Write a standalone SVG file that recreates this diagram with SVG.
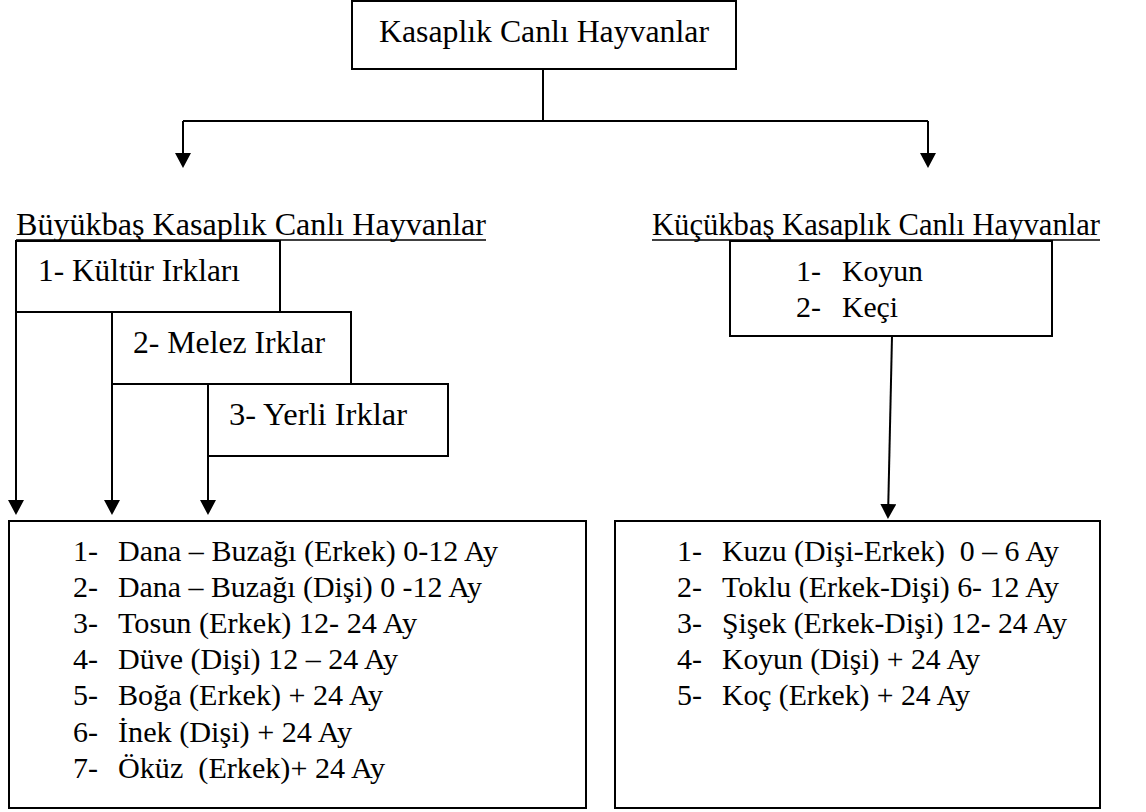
<svg xmlns="http://www.w3.org/2000/svg" width="1146" height="812" viewBox="0 0 1146 812">
  <style>
    text { fill: #000; }
    .t32 { font-size: 32px; }
    .t30 { font-size: 30px; }
    .box { fill: #fff; stroke: #000; stroke-width: 2; }
    .link { fill: none; stroke: #000; stroke-width: 2; }
    .ul { stroke: #000; stroke-width: 1.6; }
  </style>
  <defs>
    <marker id="arrow" viewBox="0 0 15 16" refX="9" refY="8" markerWidth="15" markerHeight="16" markerUnits="userSpaceOnUse" orient="auto">
      <path d="M0,0 L15,8 L0,16 Z" fill="#000"/>
    </marker>
  </defs>

  <rect width="1146" height="812" fill="#fff"/>

  <!-- connectors -->
  <g id="connectors">
    <path class="link" d="M543,69 V121 M183,121 H928"/>
    <path class="link" d="M183,121 V162" marker-end="url(#arrow)"/>
    <path class="link" d="M928,121 V162" marker-end="url(#arrow)"/>
    <path class="link" d="M16,312 V509" marker-end="url(#arrow)"/>
    <path class="link" d="M112,384 V509" marker-end="url(#arrow)"/>
    <path class="link" d="M208,456 V509" marker-end="url(#arrow)"/>
    <path class="link" d="M892,336 L888.1,513" marker-end="url(#arrow)"/>
  </g>

  <g font-family="'Liberation Serif', Tinos, 'Times New Roman', 'DejaVu Serif', serif">
  <!-- root -->
  <g id="root">
    <rect class="box" x="352" y="1" width="384" height="68"/>
    <text class="t32" x="379" y="42" textLength="330" lengthAdjust="spacingAndGlyphs">Kasaplık Canlı Hayvanlar</text>
  </g>

  <!-- branch headings -->
  <g id="heading-large">
    <text class="t32" x="16" y="235" textLength="470" lengthAdjust="spacingAndGlyphs">Büyükbaş Kasaplık Canlı Hayvanlar</text>
    <line class="ul" x1="16" y1="240" x2="486" y2="240"/>
  </g>
  <g id="heading-small">
    <text class="t32" x="652" y="235" textLength="448" lengthAdjust="spacingAndGlyphs">Küçükbaş Kasaplık Canlı Hayvanlar</text>
    <line class="ul" x1="652" y1="240" x2="1100" y2="240"/>
  </g>

  <!-- breed groups -->
  <g id="breed-culture">
    <rect class="box" x="16" y="241" width="264" height="71"/>
    <text class="t32" x="38" y="281" textLength="202" lengthAdjust="spacingAndGlyphs">1- Kültür Irkları</text>
  </g>
  <g id="breed-cross">
    <rect class="box" x="112" y="312" width="239" height="72"/>
    <text class="t32" x="133" y="353" textLength="192" lengthAdjust="spacingAndGlyphs">2- Melez Irklar</text>
  </g>
  <g id="breed-local">
    <rect class="box" x="208" y="384" width="240" height="72"/>
    <text class="t32" x="229" y="425" textLength="178" lengthAdjust="spacingAndGlyphs">3- Yerli Irklar</text>
  </g>

  <!-- small livestock species -->
  <g id="species-small">
    <rect class="box" x="730" y="241" width="322" height="95"/>
    <text class="t30" x="796" y="281">1-</text>
    <text class="t30" x="842" y="281" textLength="81" lengthAdjust="spacingAndGlyphs">Koyun</text>
    <text class="t30" x="796" y="317">2-</text>
    <text class="t30" x="842" y="317" textLength="56" lengthAdjust="spacingAndGlyphs">Keçi</text>
  </g>

  <!-- cattle categories -->
  <g id="list-large">
    <rect class="box" x="9" y="521" width="577" height="287"/>
    <g class="t30">
      <text x="73" y="561">1-</text><text x="118" y="561" textLength="380" lengthAdjust="spacingAndGlyphs">Dana – Buzağı (Erkek) 0-12 Ay</text>
      <text x="73" y="597">2-</text><text x="118" y="597" textLength="364" lengthAdjust="spacingAndGlyphs">Dana – Buzağı (Dişi) 0 -12 Ay</text>
      <text x="73" y="633">3-</text><text x="118" y="633" textLength="299" lengthAdjust="spacingAndGlyphs">Tosun (Erkek) 12- 24 Ay</text>
      <text x="73" y="669">4-</text><text x="118" y="669" textLength="280" lengthAdjust="spacingAndGlyphs">Düve (Dişi) 12 – 24 Ay</text>
      <text x="73" y="705">5-</text><text x="118" y="705" textLength="265" lengthAdjust="spacingAndGlyphs">Boğa (Erkek) + 24 Ay</text>
      <text x="73" y="742">6-</text><text x="118" y="742" textLength="234" lengthAdjust="spacingAndGlyphs">İnek (Dişi) + 24 Ay</text>
      <text x="73" y="778">7-</text><text x="118" y="778" xml:space="preserve" textLength="267" lengthAdjust="spacingAndGlyphs">Öküz  (Erkek)+ 24 Ay</text>
    </g>
  </g>

  <!-- sheep and goat categories -->
  <g id="list-small">
    <rect class="box" x="615" y="521" width="485" height="287"/>
    <g class="t30">
      <text x="677" y="561">1-</text><text x="722" y="561" xml:space="preserve" textLength="337" lengthAdjust="spacingAndGlyphs">Kuzu (Dişi-Erkek)  0 – 6 Ay</text>
      <text x="677" y="597">2-</text><text x="722" y="597" textLength="337" lengthAdjust="spacingAndGlyphs">Toklu (Erkek-Dişi) 6- 12 Ay</text>
      <text x="677" y="633">3-</text><text x="722" y="633" textLength="345" lengthAdjust="spacingAndGlyphs">Şişek (Erkek-Dişi) 12- 24 Ay</text>
      <text x="677" y="669">4-</text><text x="722" y="669" textLength="258" lengthAdjust="spacingAndGlyphs">Koyun (Dişi) + 24 Ay</text>
      <text x="677" y="705">5-</text><text x="722" y="705" textLength="248" lengthAdjust="spacingAndGlyphs">Koç (Erkek) + 24 Ay</text>
    </g>
  </g>
  </g>
</svg>
